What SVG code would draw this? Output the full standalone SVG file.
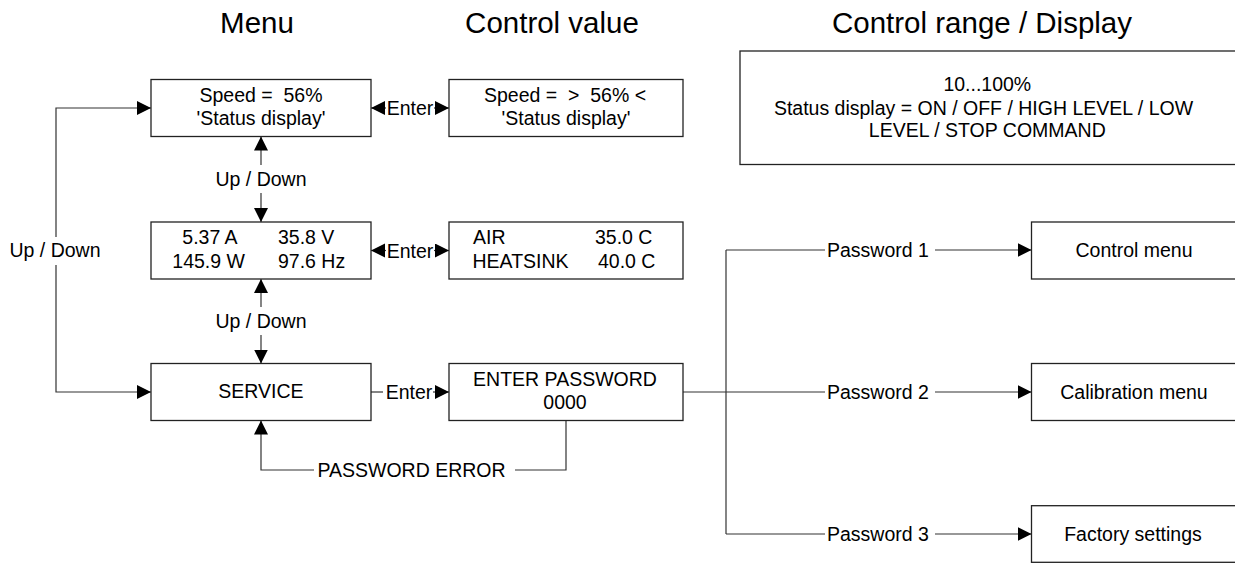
<svg xmlns="http://www.w3.org/2000/svg" width="1235" height="563" viewBox="0 0 1235 563" xml:space="preserve">
<style>
text{font-family:"Liberation Sans",Arial,sans-serif;font-size:19.5px;fill:#000;white-space:pre}
.t{font-size:29.5px}
.m{text-anchor:middle}
.box{fill:#fff;stroke:#222;stroke-width:1.3}
.c{fill:none;stroke:#333;stroke-width:1.2}
</style>
<defs>
<marker id="arr" markerUnits="userSpaceOnUse" markerWidth="15" markerHeight="15" refX="14" refY="7" orient="auto">
<path d="M0,0 L14,7 L0,14 Z" fill="#000"/>
</marker>
</defs>
<rect width="1235" height="563" fill="#fff"/>
<g id="titles">
<text class="t m" x="257" y="33">Menu</text>
<text class="t m" x="552" y="33">Control value</text>
<text class="t m" x="982" y="33">Control range / Display</text>
</g>
<g id="connectors">
<path class="c" d="M56,237 V108 H151" marker-end="url(#arr)"/>
<path class="c" d="M56,265 V392 H151" marker-end="url(#arr)"/>
<text class="m" x="55" y="257">Up / Down</text>
<path class="c" d="M261,165 V136.5" marker-end="url(#arr)"/>
<path class="c" d="M261,193 V222" marker-end="url(#arr)"/>
<text class="m" x="261" y="186">Up / Down</text>
<path class="c" d="M261,307 V279" marker-end="url(#arr)"/>
<path class="c" d="M261,335 V363.5" marker-end="url(#arr)"/>
<text class="m" x="261" y="328">Up / Down</text>
<path class="c" d="M386,108 H371" marker-end="url(#arr)"/>
<path class="c" d="M434,108 H449" marker-end="url(#arr)"/>
<text class="m" x="410" y="115">Enter</text>
<path class="c" d="M386,250.5 H371" marker-end="url(#arr)"/>
<path class="c" d="M434,250.5 H449" marker-end="url(#arr)"/>
<text class="m" x="410" y="257.5">Enter</text>
<path class="c" d="M371,392 H383"/>
<path class="c" d="M433,392 H449" marker-end="url(#arr)"/>
<text class="m" x="409" y="399">Enter</text>
<path class="c" d="M566,420.5 V470 H515"/>
<path class="c" d="M314,470 H261 V420.5" marker-end="url(#arr)"/>
<text class="m" x="411.5" y="477">PASSWORD ERROR</text>
<path class="c" d="M683,392 H825"/>
<path class="c" d="M726,250 V534"/>
<path class="c" d="M726,250 H825"/>
<path class="c" d="M726,534 H825"/>
<path class="c" d="M935,250 H1031.5" marker-end="url(#arr)"/>
<path class="c" d="M935,392 H1031.5" marker-end="url(#arr)"/>
<path class="c" d="M935,534 H1031.5" marker-end="url(#arr)"/>
<text x="827" y="257">Password 1</text>
<text x="827" y="399">Password 2</text>
<text x="827" y="541">Password 3</text>
</g>
<g id="speed">
<rect class="box" x="151" y="79.5" width="220" height="57"/>
<text class="m" x="261" y="102">Speed =  56%</text>
<text class="m" x="261" y="125">'Status display'</text>
</g>
<g id="measure">
<rect class="box" x="151" y="222" width="220" height="57"/>
<text x="182.3" y="244">5.37 A</text>
<text x="278" y="244">35.8 V</text>
<text x="172.3" y="267.5">145.9 W</text>
<text x="278" y="267.5">97.6 Hz</text>
</g>
<g id="service">
<rect class="box" x="151" y="363.5" width="220" height="57"/>
<text class="m" x="261" y="398">SERVICE</text>
</g>
<g id="speed-set">
<rect class="box" x="449" y="79.5" width="234" height="57"/>
<text class="m" x="565" y="102">Speed =  &gt;  56% &lt;</text>
<text class="m" x="566" y="125">'Status display'</text>
</g>
<g id="temps">
<rect class="box" x="449" y="222" width="234" height="57"/>
<text x="473" y="244">AIR</text>
<text x="595" y="244">35.0 C</text>
<text x="472.5" y="267.5">HEATSINK</text>
<text x="598" y="267.5">40.0 C</text>
</g>
<g id="enter-password">
<rect class="box" x="449" y="363.5" width="234" height="57"/>
<text class="m" x="565" y="385.7">ENTER PASSWORD</text>
<text class="m" x="565" y="409.3">0000</text>
</g>
<g id="range">
<rect class="box" x="740" y="51" width="510" height="113.5"/>
<text class="m" x="987.3" y="90.7">10...100%</text>
<text class="m" x="983.5" y="115">Status display = ON / OFF / HIGH LEVEL / LOW</text>
<text class="m" x="987.3" y="137.3">LEVEL / STOP COMMAND</text>
</g>
<g id="control-menu">
<rect class="box" x="1031.5" y="222" width="220" height="57"/>
<text class="m" x="1134" y="257">Control menu</text>
</g>
<g id="calibration-menu">
<rect class="box" x="1031.5" y="363.5" width="220" height="57"/>
<text class="m" x="1134" y="399">Calibration menu</text>
</g>
<g id="factory-settings">
<rect class="box" x="1031.5" y="505.7" width="220" height="56.6"/>
<text class="m" x="1133" y="541">Factory settings</text>
</g>
</svg>
